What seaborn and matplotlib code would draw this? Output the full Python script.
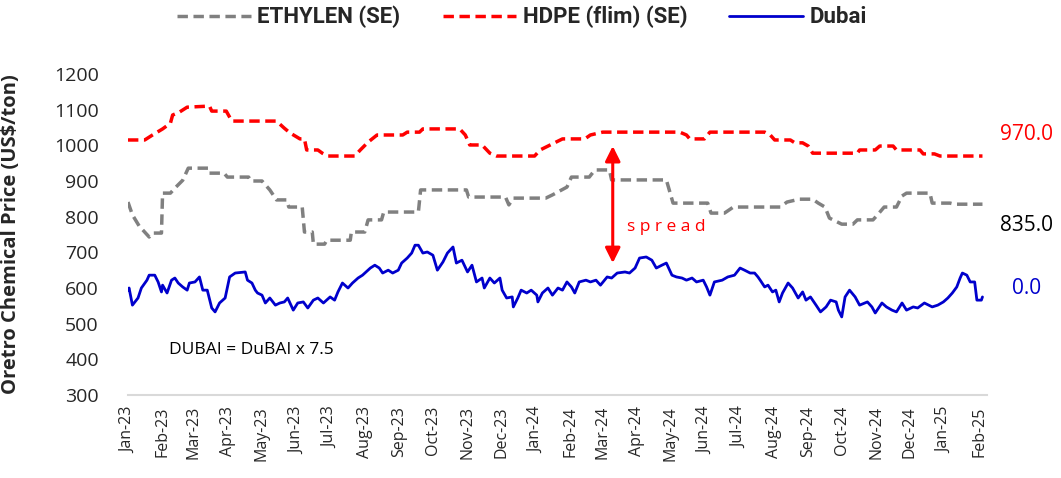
import pandas as pd
import numpy as np
import matplotlib
matplotlib.use('Agg')
import matplotlib.pyplot as plt
import matplotlib.dates as mdates
import matplotlib.transforms as mtransforms
import seaborn as sns

# --- DATA ---
dubai_dates = [
    "2023-01-01", "2023-01-02", "2023-01-05", "2023-01-10", "2023-01-13", "2023-01-18", "2023-01-20", "2023-01-25", "2023-01-28", "2023-01-31",
    "2023-02-01", "2023-02-05", "2023-02-09", "2023-02-12", "2023-02-15", "2023-02-19", "2023-02-23", "2023-02-25",
    "2023-03-02", "2023-03-06", "2023-03-09", "2023-03-13", "2023-03-17", "2023-03-20", "2023-03-24", "2023-03-29",
    "2023-04-02", "2023-04-07", "2023-04-16", "2023-04-18", "2023-04-22", "2023-04-25", "2023-04-27",
    "2023-05-01", "2023-05-04", "2023-05-08", "2023-05-13", "2023-05-17", "2023-05-21", "2023-05-24", "2023-05-29",
    "2023-06-02", "2023-06-07", "2023-06-11", "2023-06-16", "2023-06-20", "2023-06-25",
    "2023-07-01", "2023-07-05", "2023-07-08", "2023-07-12", "2023-07-17", "2023-07-21", "2023-07-26", "2023-07-30",
    "2023-08-06", "2023-08-10", "2023-08-14", "2023-08-17", "2023-08-22", "2023-08-26", "2023-08-31",
    "2023-09-03", "2023-09-08", "2023-09-12", "2023-09-15", "2023-09-18", "2023-09-22", "2023-09-26",
    "2023-10-01", "2023-10-05", "2023-10-10", "2023-10-14", "2023-10-19", "2023-10-22", "2023-10-27",
    "2023-11-01", "2023-11-05", "2023-11-09", "2023-11-14", "2023-11-16", "2023-11-21", "2023-11-25", "2023-11-30",
    "2023-12-02", "2023-12-06", "2023-12-11", "2023-12-12", "2023-12-16", "2023-12-19", "2023-12-24", "2023-12-28",
    "2024-01-02", "2024-01-03", "2024-01-07", "2024-01-12", "2024-01-16", "2024-01-21", "2024-01-25", "2024-01-29",
    "2024-02-02", "2024-02-05", "2024-02-09", "2024-02-15", "2024-02-19", "2024-02-24", "2024-02-28",
    "2024-03-05", "2024-03-09", "2024-03-14", "2024-03-21", "2024-03-25", "2024-03-30",
    "2024-04-03", "2024-04-09", "2024-04-14", "2024-04-18", "2024-04-23", "2024-04-27",
    "2024-05-02", "2024-05-06", "2024-05-11", "2024-05-15", "2024-05-20", "2024-05-24", "2024-05-30",
    "2024-06-02", "2024-06-05", "2024-06-09", "2024-06-16", "2024-06-21", "2024-06-27",
    "2024-07-02", "2024-07-06", "2024-07-11", "2024-07-15", "2024-07-18", "2024-07-20", "2024-07-24", "2024-07-27", "2024-07-31",
    "2024-08-03", "2024-08-06", "2024-08-09", "2024-08-14", "2024-08-18", "2024-08-23", "2024-08-27", "2024-08-30",
    "2024-09-03", "2024-09-08", "2024-09-12", "2024-09-17", "2024-09-21", "2024-09-26", "2024-09-28",
    "2024-10-01", "2024-10-04", "2024-10-08", "2024-10-13", "2024-10-17", "2024-10-24", "2024-10-28", "2024-10-31",
    "2024-11-06", "2024-11-10", "2024-11-15", "2024-11-19", "2024-11-24", "2024-11-28",
    "2024-12-04", "2024-12-08", "2024-12-14", "2024-12-21", "2024-12-26", "2024-12-31",
    "2025-01-04", "2025-01-08", "2025-01-12", "2025-01-15", "2025-01-17", "2025-01-21", "2025-01-24", "2025-01-28", "2025-01-30",
    "2025-02-03", "2025-02-04",
]
dubai = [
    594, 600, 552, 572, 600, 622, 636, 636, 617, 589,
    608, 586, 622, 628, 614, 603, 594, 614,
    617, 631, 594, 594, 544, 533, 558, 572,
    631, 642, 645, 622, 614, 594, 586,
    580, 558, 572, 552, 558, 561, 572, 538,
    558, 561, 544, 566, 572, 558,
    575, 566, 589, 614, 600, 614, 628, 636,
    656, 664, 656, 642, 650, 642, 650,
    670, 684, 698, 720, 720, 698, 701,
    692, 650, 673, 698, 715, 670, 678,
    645, 664, 617, 628, 600, 628, 614, 628,
    594, 572, 575, 547, 572, 594, 586, 594,
    580, 561, 586, 600, 580, 600, 594, 617,
    603, 586, 617, 622, 617, 622, 608,
    631, 628, 642, 645, 642, 656,
    684, 687, 678, 656, 664, 670,
    636, 631, 628, 622, 628, 617, 622,
    603, 580, 617, 622, 631, 636,
    656, 650, 642, 642, 631, 622, 603, 608, 589,
    594, 561, 586, 614, 600, 572, 589, 566,
    575, 552, 533, 547, 566, 561, 538,
    519, 575, 594, 575, 552, 561, 547, 530,
    558, 547, 538, 533, 558, 538,
    547, 544, 558, 547, 552, 561,
    572, 586, 603, 628, 642, 636, 617, 617, 566,
    566, 575,
]

hdpe_dates = [
    "2023-01-01", "2023-01-16", "2023-01-23", "2023-02-01", "2023-02-08", "2023-02-10", "2023-02-16", "2023-02-23",
    "2023-03-15", "2023-03-17", "2023-03-30", "2023-04-04", "2023-05-14", "2023-05-21", "2023-05-26", "2023-06-04",
    "2023-06-08", "2023-06-10", "2023-06-20", "2023-06-24", "2023-06-29", "2023-07-23", "2023-07-28", "2023-08-04",
    "2023-08-12", "2023-09-04", "2023-09-08", "2023-09-19", "2023-09-22", "2023-10-25", "2023-10-30", "2023-11-03",
    "2023-11-14", "2023-11-21", "2023-11-27", "2023-12-31", "2024-01-05", "2024-01-14", "2024-01-25", "2024-02-14",
    "2024-02-19", "2024-03-01", "2024-05-09", "2024-05-15", "2024-05-18", "2024-05-31", "2024-06-05", "2024-07-24",
    "2024-07-29", "2024-08-02", "2024-08-16", "2024-08-20", "2024-08-27", "2024-09-01", "2024-09-05", "2024-10-15",
    "2024-10-17", "2024-10-31", "2024-11-04", "2024-11-16", "2024-11-19", "2024-12-10", "2024-12-13", "2024-12-23",
    "2024-12-28", "2025-02-04",
]
hdpe = [
    1015, 1015, 1029, 1046, 1062, 1085, 1093, 1107, 1110, 1096,
    1096, 1068, 1068, 1048, 1035, 1018, 1018, 987, 987, 978,
    970, 970, 987, 1009, 1029, 1029, 1037, 1037, 1046, 1046,
    1029, 1001, 1001, 978, 970, 970, 987, 1001, 1018, 1018,
    1029, 1037, 1037, 1029, 1018, 1018, 1037, 1037, 1029, 1015,
    1015, 1007, 1007, 998, 978, 978, 987, 987, 998, 998,
    987, 987, 976, 976, 970, 970,
]

eth_dates = [
    "2023-01-01", "2023-01-05", "2023-01-11", "2023-01-20", "2023-01-23", "2023-01-31", "2023-02-01", "2023-02-08",
    "2023-02-12", "2023-02-19", "2023-02-24", "2023-03-14", "2023-03-15", "2023-03-28", "2023-03-31", "2023-04-19",
    "2023-04-21", "2023-05-01", "2023-05-08", "2023-05-14", "2023-05-23", "2023-05-25", "2023-06-06", "2023-06-08",
    "2023-06-15", "2023-06-16", "2023-06-26", "2023-06-28", "2023-07-19", "2023-07-20", "2023-08-01", "2023-08-04",
    "2023-08-16", "2023-08-18", "2023-09-18", "2023-09-20", "2023-10-31", "2023-11-02", "2023-12-05", "2023-12-08",
    "2023-12-12", "2024-01-10", "2024-01-16", "2024-01-29", "2024-02-02", "2024-02-18", "2024-02-23", "2024-03-07",
    "2024-03-09", "2024-04-27", "2024-05-03", "2024-06-03", "2024-06-06", "2024-06-18", "2024-06-26", "2024-08-07",
    "2024-08-13", "2024-08-24", "2024-09-05", "2024-09-10", "2024-09-16", "2024-09-20", "2024-10-01", "2024-10-11",
    "2024-10-15", "2024-10-29", "2024-11-02", "2024-11-08", "2024-11-19", "2024-11-24", "2024-11-28", "2024-12-19",
    "2024-12-21", "2025-01-06", "2025-01-10", "2025-02-04",
]
ethylene = [
    841, 805, 774, 743, 754, 754, 866, 866, 880, 902,
    936, 936, 922, 922, 911, 911, 900, 900, 875, 847,
    847, 827, 827, 757, 757, 723, 723, 734, 734, 757,
    757, 791, 791, 813, 813, 875, 875, 855, 855, 833,
    852, 852, 861, 883, 911, 911, 931, 931, 903, 903,
    838, 838, 810, 810, 827, 827, 841, 849, 849, 838,
    827, 796, 779, 779, 791, 791, 805, 827, 827, 858,
    866, 866, 838, 838, 835, 835,
]

series_labels = ["ETHYLEN (SE)", "HDPE (flim) (SE)", "Dubai"]
end_labels = ["835.0", "970.0", "0.0"]
spread_date = "2024-03-10"
spread_low, spread_high = 670, 998

# --- PLOT ---
sns.set_style('white')
plt.rcParams['font.family'] = ['Open Sans', 'DejaVu Sans']

fig = plt.figure(figsize=(10.61, 4.78), dpi=100)
ax = fig.add_axes([0.1206, 0.1736, 0.8096, 0.6716])

sns.lineplot(x=pd.to_datetime(eth_dates), y=ethylene, ax=ax, color='#808080', lw=2.5,
             linestyle=(0, (3, 1.6)), estimator=None, sort=False, label=series_labels[0])
sns.lineplot(x=pd.to_datetime(hdpe_dates), y=hdpe, ax=ax, color='#FF0000', lw=2.5,
             linestyle=(0, (3, 1.6)), estimator=None, sort=False, label=series_labels[1])
sns.lineplot(x=pd.to_datetime(dubai_dates), y=dubai, ax=ax, color='#0000CC', lw=2,
             estimator=None, sort=False, label=series_labels[2])

ax.set_xlim(pd.Timestamp('2023-01-01'), pd.Timestamp('2025-02-08'))
ax.set_ylim(300, 1200)
ax.set_yticks(np.arange(300, 1201, 100))
ax.xaxis.set_major_locator(mdates.MonthLocator())
ax.xaxis.set_major_formatter(mdates.DateFormatter('%b-%y'))
ax.tick_params(axis='x', labelrotation=90, labelsize=11.5, length=5, color='#D9D9D9', width=1.2, pad=3)
ax.tick_params(axis='y', labelsize=14, length=0, pad=21)
for s in ['left', 'top', 'right']:
    ax.spines[s].set_visible(False)
ax.spines['bottom'].set_color('#D9D9D9')
ax.spines['bottom'].set_linewidth(1.5)
ax.set_xlabel('')
ax.set_ylabel('Oretro Chemical Price (US$/ton)', fontsize=14.5, fontweight='bold')
ax.yaxis.set_label_coords(-0.124, 0.5)

# legend on top
handles, labels = ax.get_legend_handles_labels()
ax.get_legend().remove()
fig.legend(handles, labels, loc='center', bbox_to_anchor=(0.492, 0.964), ncol=3, frameon=False,
           handlelength=3.3, columnspacing=1.9, handletextpad=0.3,
           prop={'family': ['Roboto', 'DejaVu Sans'], 'weight': 'bold', 'size': 16})

# end value labels
trans = mtransforms.blended_transform_factory(ax.transAxes, ax.transData)
ax.text(1.0466, 1029, end_labels[1], color='#FF0000', fontsize=15, ha='center', va='center', transform=trans, clip_on=False)
ax.text(1.0466, 774, end_labels[0], color='black', fontsize=15, ha='center', va='center', transform=trans, clip_on=False)
ax.text(1.0466, 600, end_labels[2], color='#0000CC', fontsize=15, ha='center', va='center', transform=trans, clip_on=False)

# spread arrow
sd = pd.Timestamp(spread_date)
ax.annotate('', xy=(sd, spread_high), xytext=(sd, spread_low),
            arrowprops=dict(arrowstyle='<|-|>,head_length=0.9,head_width=0.45', color='#FF0000', lw=2.2,
                            shrinkA=0, shrinkB=0))
ax.text(pd.Timestamp('2024-03-23'), 771, 's p r e a d', color='#FF0000', fontsize=12.5, ha='left', va='center')
ax.text(pd.Timestamp('2023-02-07'), 426, 'DUBAI = DuBAI x 7.5', color='black', fontsize=12.5, ha='left', va='center')

fig.savefig('out.png', dpi=100)
